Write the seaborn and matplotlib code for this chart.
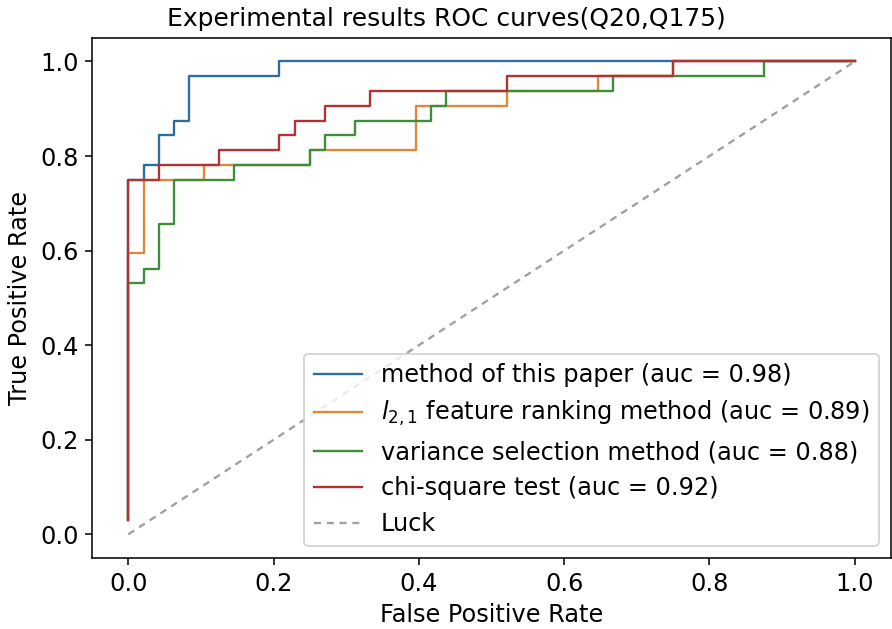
import matplotlib
matplotlib.use('Agg')
import matplotlib.pyplot as plt
import seaborn as sns

# corner points of the step ROC curves
fpr_paper = [0, 0, 0.021, 0.021, 0.042, 0.042, 0.0625, 0.0625, 0.083, 0.083, 0.208, 0.208, 1.0]
tpr_paper = [0.031, 0.75, 0.75, 0.781, 0.781, 0.844, 0.844, 0.875, 0.875, 0.969, 0.969, 1.0, 1.0]

fpr_l21 = [0, 0, 0.021, 0.021, 0.104, 0.104, 0.25, 0.25, 0.396, 0.396, 0.521, 0.521, 0.646, 0.646, 0.75, 0.75, 1.0]
tpr_l21 = [0.031, 0.594, 0.594, 0.75, 0.75, 0.781, 0.781, 0.812, 0.812, 0.906, 0.906, 0.938, 0.938, 0.969, 0.969, 1.0, 1.0]

fpr_var = [0, 0, 0.021, 0.021, 0.042, 0.042, 0.0625, 0.0625, 0.146, 0.146, 0.25, 0.25, 0.271, 0.271,
           0.3125, 0.3125, 0.417, 0.417, 0.4375, 0.4375, 0.667, 0.667, 0.875, 0.875, 1.0]
tpr_var = [0.031, 0.531, 0.531, 0.562, 0.562, 0.656, 0.656, 0.75, 0.75, 0.781, 0.781, 0.812, 0.812, 0.844,
           0.844, 0.875, 0.875, 0.906, 0.906, 0.938, 0.938, 0.969, 0.969, 1.0, 1.0]

fpr_chi = [0, 0, 0.042, 0.042, 0.125, 0.125, 0.208, 0.208, 0.229, 0.229, 0.271, 0.271, 0.333, 0.333,
           0.521, 0.521, 0.75, 0.75, 1.0]
tpr_chi = [0.031, 0.75, 0.75, 0.781, 0.781, 0.812, 0.812, 0.844, 0.844, 0.875, 0.875, 0.906, 0.906, 0.938,
           0.938, 0.969, 0.969, 1.0, 1.0]

luck_x = [0, 1]
luck_y = [0, 1]

labels = ['method of this paper (auc = 0.98)',
          r'$l_{2,1}$ feature ranking method (auc = 0.89)',
          'variance selection method (auc = 0.88)',
          'chi-square test (auc = 0.92)']
colors = ['#2f6d9c', '#e0883a', '#3b8f3b', '#b03232']

plt.rcParams['font.size'] = 12.4

fig, ax = plt.subplots(figsize=(6.4, 4.51), dpi=139.5)
fig.subplots_adjust(left=0.103, right=0.998, top=0.9396, bottom=0.1129)

curves = [(fpr_paper, tpr_paper), (fpr_l21, tpr_l21), (fpr_var, tpr_var), (fpr_chi, tpr_chi)]
for i, (fx, ty) in enumerate(curves):
    sns.lineplot(x=fx, y=ty, sort=False, estimator=None, color=colors[i],
                 label=labels[i], ax=ax, lw=1.2)

sns.lineplot(x=luck_x, y=luck_y, sort=False, estimator=None, color='#a0a0a0',
             linestyle=(0, (3, 2.5)), lw=1.2, label='Luck', ax=ax)

# title sits centred on the figure, not the axes
ax.set_title('Experimental results ROC curves(Q20,Q175)', fontsize=12.9, x=0.444)
ax.set_xlabel('False Positive Rate')
ax.set_ylabel('True Positive Rate')
ax.legend(loc='lower right')

plt.savefig('out.png', dpi=139.5)
